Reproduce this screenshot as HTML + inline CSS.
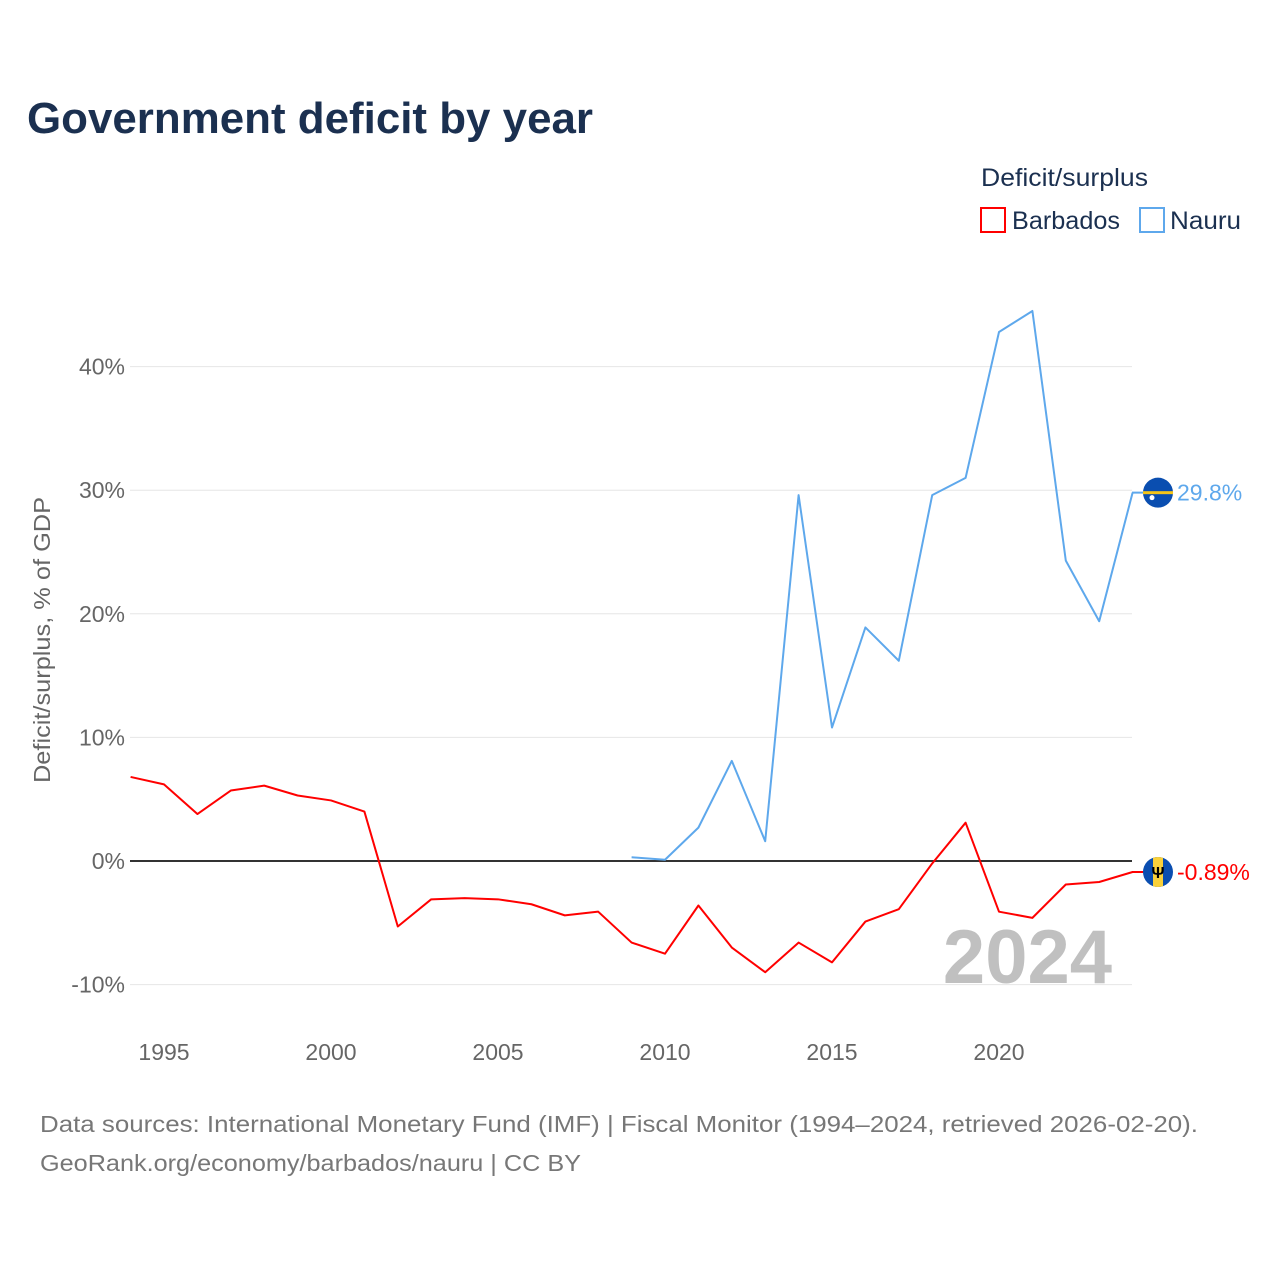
<!DOCTYPE html>
<html><head><meta charset="utf-8"><style>
body{margin:0;background:#fff;}
svg{display:block;font-family:"Liberation Sans",sans-serif;}
</style></head><body>
<svg id="chart" width="1280" height="1280" viewBox="0 0 1280 1280">
<text x="27" y="133" font-size="44" font-weight="bold" fill="#1b3050" textLength="566" lengthAdjust="spacingAndGlyphs">Government deficit by year</text>
<text x="981" y="186" font-size="25" fill="#1b3050" textLength="167" lengthAdjust="spacingAndGlyphs">Deficit/surplus</text>
<g>
<rect x="981" y="208" width="24" height="24" fill="none" stroke="#ff0000" stroke-width="2"/>
<text x="1012" y="229" font-size="25" fill="#1b3050" textLength="108" lengthAdjust="spacingAndGlyphs">Barbados</text></g>
<g>
<rect x="1140" y="208" width="24" height="24" fill="none" stroke="#5ea8ec" stroke-width="2"/>
<text x="1170" y="229" font-size="25" fill="#1b3050" textLength="71" lengthAdjust="spacingAndGlyphs">Nauru</text></g>
<text transform="translate(50,640) rotate(-90)" text-anchor="middle" font-size="23" fill="#666" textLength="286" lengthAdjust="spacingAndGlyphs">Deficit/surplus, % of GDP</text>
<g id="grid"></g><g id="yticks"></g><g id="xticks"></g>
<text x="1112" y="983" text-anchor="end" font-size="76" font-weight="bold" fill="#c0c0c0">2024</text>
<g id="series"></g>
<text x="40" y="1132" font-size="23" fill="#777" textLength="1158" lengthAdjust="spacingAndGlyphs">Data sources: International Monetary Fund (IMF) | Fiscal Monitor (1994–2024, retrieved 2026-02-20).</text>
<text x="40" y="1171" font-size="23" fill="#777" textLength="541" lengthAdjust="spacingAndGlyphs">GeoRank.org/economy/barbados/nauru | CC BY</text>
</svg>
<script>
const years=[1994,1995,1996,1997,1998,1999,2000,2001,2002,2003,2004,2005,2006,2007,2008,2009,2010,2011,2012,2013,2014,2015,2016,2017,2018,2019,2020,2021,2022,2023,2024];
const barbados=[6.8,6.2,3.8,5.7,6.1,5.3,4.9,4.0,-5.3,-3.1,-3.0,-3.1,-3.5,-4.4,-4.1,-6.6,-7.5,-3.6,-7.0,-9.0,-6.6,-8.2,-4.9,-3.9,-0.2,3.1,-4.1,-4.6,-1.9,-1.7,-0.89];
const nauruYears=[2009,2010,2011,2012,2013,2014,2015,2016,2017,2018,2019,2020,2021,2022,2023,2024];
const nauru=[0.3,0.1,2.7,8.1,1.6,29.6,10.8,18.9,16.2,29.6,31.0,42.8,44.5,24.3,19.4,29.8];
const yTicks=[-10,0,10,20,30,40];
const xTicks=[1995,2000,2005,2010,2015,2020];
const NS="http://www.w3.org/2000/svg";
const X=y=>130.6+(y-1994)*33.4;
const Y=v=>861-v*12.36;
function mk(t,a,p){const e=document.createElementNS(NS,t);for(const k in a)e.setAttribute(k,a[k]);p.appendChild(e);return e;}
const grid=document.getElementById('grid'),yt=document.getElementById('yticks'),xt=document.getElementById('xticks'),ser=document.getElementById('series');
yTicks.forEach(v=>{
const l=mk('line',{x1:130,x2:1132,y1:Y(v),y2:Y(v),stroke:v===0?'#333':'#e6e6e6','stroke-width':v===0?2:1},grid);


const t=mk('text',{x:125,y:Y(v)+8,'text-anchor':'end','font-size':23,fill:'#666'},yt);
t.textContent=v+'%';


});
xTicks.forEach(y=>{
const t=mk('text',{x:X(y),y:1060,'text-anchor':'middle','font-size':23,fill:'#666'},xt);
t.textContent=y;


});
function line(xs,vs,col,name){
const p=mk('polyline',{points:xs.map((y,i)=>X(y)+','+Y(vs[i])).join(' '),fill:'none',stroke:col,'stroke-width':2,'stroke-linejoin':'round'},ser);


}
line(nauruYears,nauru,'#5ea8ec','nauru-line');
line(years,barbados,'#ff0000','barbados-line');
const nv=nauru[nauru.length-1],bv=barbados[barbados.length-1];
const fx=1158;
let g=mk('g',{},ser);


mk('line',{x1:1132,x2:fx,y1:Y(nv),y2:Y(nv),stroke:'#5ea8ec','stroke-width':2},g);
mk('circle',{cx:fx,cy:Y(nv),r:15,fill:'#0a4eb0'},g);
mk('rect',{x:fx-15,y:Y(nv)-1.5,width:30,height:3,fill:'#f5c518'},g);
mk('circle',{cx:fx-6,cy:Y(nv)+5,r:2.5,fill:'#fff'},g);
let t=mk('text',{x:1177,y:Y(nv)+8,'font-size':23,fill:'#5ea8ec'},ser);
t.textContent=nv.toFixed(1)+'%';


g=mk('g',{},ser);


mk('line',{x1:1132,x2:fx,y1:Y(bv),y2:Y(bv),stroke:'#ff0000','stroke-width':2},g);
const cp=mk('clipPath',{id:'bc'},g);mk('circle',{cx:fx,cy:Y(bv),r:15},cp);
mk('rect',{x:fx-15,y:Y(bv)-15,width:30,height:30,fill:'#0a4eb0','clip-path':'url(#bc)'},g);
mk('rect',{x:fx-5,y:Y(bv)-15,width:10,height:30,fill:'#f9d13b','clip-path':'url(#bc)'},g);
const tr=mk('text',{x:fx,y:Y(bv)+6,'text-anchor':'middle','font-size':16,'font-weight':'bold',fill:'#000'},g);tr.textContent='Ψ';
t=mk('text',{x:1177,y:Y(bv)+8,'font-size':23,fill:'#ff0000'},ser);
t.textContent=bv+'%';


</script>
</body></html>
